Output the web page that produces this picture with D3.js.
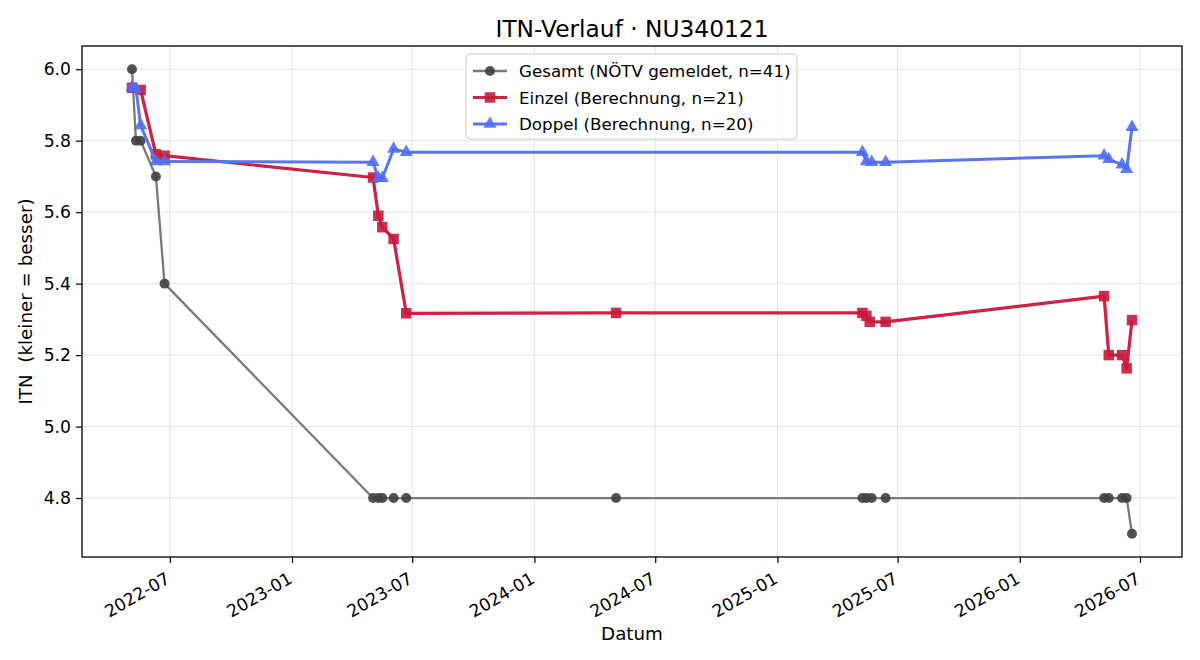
<!DOCTYPE html>
<html>
<head>
<meta charset="utf-8">
<script src="https://cdn.jsdelivr.net/npm/d3@7"></script>
<style>
  body { margin: 0; background: #fff; }
  svg { font-family: "DejaVu Sans", sans-serif; }
</style>
</head>
<body>
<div id="container"></div>
<script>
/* DATA */
const gesamtDates = ["2022-05-05","2022-05-11","2022-05-18","2022-06-10","2022-06-23",
  "2023-05-03","2023-05-11","2023-05-17","2023-06-03","2023-06-22","2024-05-03",
  "2025-05-09","2025-05-15","2025-05-23","2025-06-13",
  "2026-05-08","2026-05-15","2026-06-04","2026-06-11","2026-06-19"]
const gesamtValues = [6.0, 5.8, 5.8, 5.7, 5.4,
  4.8, 4.8, 4.8, 4.8, 4.8, 4.8,
  4.8, 4.8, 4.8, 4.8,
  4.8, 4.8, 4.8, 4.8, 4.7]

const einzelDates = ["2022-05-05","2022-05-18","2022-06-10","2022-06-23",
  "2023-05-03","2023-05-11","2023-05-17","2023-06-03","2023-06-22","2024-05-03",
  "2025-05-09","2025-05-15","2025-05-20","2025-06-13",
  "2026-05-08","2026-05-15","2026-06-04","2026-06-11","2026-06-19"]
const einzelValues = [5.948, 5.942, 5.762, 5.758,
  5.697, 5.59, 5.558, 5.525, 5.317, 5.318,
  5.318, 5.31, 5.293, 5.293,
  5.365, 5.2, 5.2, 5.163, 5.298]

const doppelDates = ["2022-05-05","2022-05-11","2022-05-18","2022-06-10","2022-06-23",
  "2023-05-03","2023-05-11","2023-05-17","2023-06-03","2023-06-22",
  "2025-05-09","2025-05-15","2025-05-23","2025-06-13",
  "2026-05-08","2026-05-15","2026-06-04","2026-06-11","2026-06-19"]
const doppelValues = [5.95, 5.945, 5.843, 5.742, 5.742,
  5.74, 5.695, 5.695, 5.777, 5.768,
  5.768, 5.742, 5.74, 5.74,
  5.758, 5.748, 5.733, 5.72, 5.838]

const yTicks = [4.8, 5.0, 5.2, 5.4, 5.6, 5.8, 6.0]
const xTicks = ["2022-07","2023-01","2023-07","2024-01","2024-07","2025-01","2025-07","2026-01","2026-07"]
const legendLabels = ["Gesamt (NÖTV gemeldet, n=41)", "Einzel (Berechnung, n=21)", "Doppel (Berechnung, n=20)"]

/* CONSTANTS */
const width = 1200, height = 660
const margin = { top: 46, bottom: 103, left: 82, right: 18 }
const parse = d3.timeParse("%Y-%m-%d")
const parseMonth = d3.timeParse("%Y-%m")

const series = [
  { dates: gesamtDates, values: gesamtValues, line: "#7a7a7a", mark: "#404040", lw: 2.3, shape: "circle" },
  { dates: einzelDates, values: einzelValues, line: "#cf2142", mark: "#c81a3c", lw: 3.2, shape: "square" },
  { dates: doppelDates, values: doppelValues, line: "#5a75f2", mark: "#4f6df4", lw: 3.0, shape: "triangle" }
]
series.forEach(s => { s.data = s.dates.map((d, i) => ({ date: parse(d), value: s.values[i] })) })

const allPts = series.flatMap(s => s.data)
const xExt = d3.extent(allPts, d => d.date)
const xPad = (xExt[1] - xExt[0]) * 0.05
const yExt = d3.extent(allPts, d => d.value)
const yPad = (yExt[1] - yExt[0]) * 0.05

/* SCALES */
const xScale = d3.scaleTime()
  .domain([new Date(+xExt[0] - xPad), new Date(+xExt[1] + xPad)])
  .range([margin.left, width - margin.right])
const yScale = d3.scaleLinear()
  .domain([yExt[0] - yPad, yExt[1] + yPad])
  .range([height - margin.bottom, margin.top])

const svg = d3.select("#container").append("svg")
  .attr("width", width).attr("height", height)

// grid
svg.append("g").selectAll("line").data(xTicks).join("line")
  .attr("x1", d => xScale(parseMonth(d))).attr("x2", d => xScale(parseMonth(d)))
  .attr("y1", margin.top).attr("y2", height - margin.bottom)
  .attr("stroke", "#e4e4e4").attr("stroke-width", 1)
svg.append("g").selectAll("line").data(yTicks).join("line")
  .attr("x1", margin.left).attr("x2", width - margin.right)
  .attr("y1", d => yScale(d)).attr("y2", d => yScale(d))
  .attr("stroke", "#e4e4e4").attr("stroke-width", 1)

// axes
const xAxis = d3.axisBottom(xScale)
  .tickValues(xTicks.map(parseMonth))
  .tickFormat(d3.timeFormat("%Y-%m"))
  .tickSize(6).tickPadding(4)
const gx = svg.append("g")
  .attr("transform", `translate(0,${height - margin.bottom})`)
  .call(xAxis)
gx.select(".domain").remove()
gx.selectAll(".tick line").attr("stroke", "#000").attr("stroke-width", 1.2)
gx.selectAll(".tick text")
  .attr("font-size", 17.2).attr("font-family", "DejaVu Sans").attr("fill", "#000")
  .attr("text-anchor", "end").attr("dy", null).attr("y", null)
  .attr("transform", "translate(1,25) rotate(-30)")

const yAxis = d3.axisLeft(yScale)
  .tickValues(yTicks).tickFormat(d3.format(".1f"))
  .tickSize(6).tickPadding(5)
const gy = svg.append("g")
  .attr("transform", `translate(${margin.left},0)`)
  .call(yAxis)
gy.select(".domain").remove()
gy.selectAll(".tick line").attr("stroke", "#000").attr("stroke-width", 1.2)
gy.selectAll(".tick text")
  .attr("font-size", 17.2).attr("font-family", "DejaVu Sans").attr("fill", "#000")

// lines + markers
const line = d3.line().x(d => xScale(d.date)).y(d => yScale(d.value))
const sym = {
  circle: d3.symbol(d3.symbolCircle, 78),
  square: d3.symbol(d3.symbolSquare, 110),
  triangle: d3.symbol(d3.symbolTriangle, 75)
}

series.forEach(s => {
  svg.append("path")
    .datum(s.data)
    .attr("d", line)
    .attr("fill", "none")
    .attr("stroke", s.line)
    .attr("stroke-width", s.lw)
    .attr("stroke-linejoin", "round")
  svg.append("g").selectAll("path").data(s.data).join("path")
    .attr("d", sym[s.shape])
    .attr("transform", d => `translate(${xScale(d.date)},${yScale(d.value)})`)
    .attr("fill", s.mark).attr("fill-opacity", 0.9)
})

// frame
svg.append("rect")
  .attr("x", margin.left).attr("y", margin.top)
  .attr("width", width - margin.left - margin.right)
  .attr("height", height - margin.top - margin.bottom)
  .attr("fill", "none").attr("stroke", "#000").attr("stroke-width", 1.3)

// title and labels
svg.append("text")
  .attr("x", (margin.left + width - margin.right) / 2).attr("y", 37)
  .attr("text-anchor", "middle").attr("font-size", 23.3)
  .text("ITN-Verlauf · NU340121")
svg.append("text")
  .attr("x", (margin.left + width - margin.right) / 2).attr("y", 640)
  .attr("text-anchor", "middle").attr("font-size", 18.3)
  .text("Datum")
svg.append("text")
  .attr("transform", `translate(32,${(margin.top + height - margin.bottom) / 2}) rotate(-90)`)
  .attr("text-anchor", "middle").attr("font-size", 18.3)
  .style("white-space", "pre")
  .text("ITN  (kleiner = besser)")

// legend
const lg = svg.append("g").attr("transform", "translate(466,54)")
lg.append("rect")
  .attr("width", 331).attr("height", 85).attr("rx", 4)
  .attr("fill", "#fff").attr("fill-opacity", 0.85)
  .attr("stroke", "#cccccc").attr("stroke-width", 1)
series.forEach((s, i) => {
  const y = 17 + i * 26.5
  lg.append("line").attr("x1", 7).attr("x2", 41).attr("y1", y).attr("y2", y)
    .attr("stroke", s.line).attr("stroke-width", s.lw)
  lg.append("path").attr("d", sym[s.shape])
    .attr("transform", `translate(24,${y})`)
    .attr("fill", s.mark).attr("fill-opacity", 0.9)
  lg.append("text").attr("x", 53).attr("y", y).attr("dy", "0.36em")
    .attr("font-size", 16.7).text(legendLabels[i])
})
</script>
</body>
</html>
